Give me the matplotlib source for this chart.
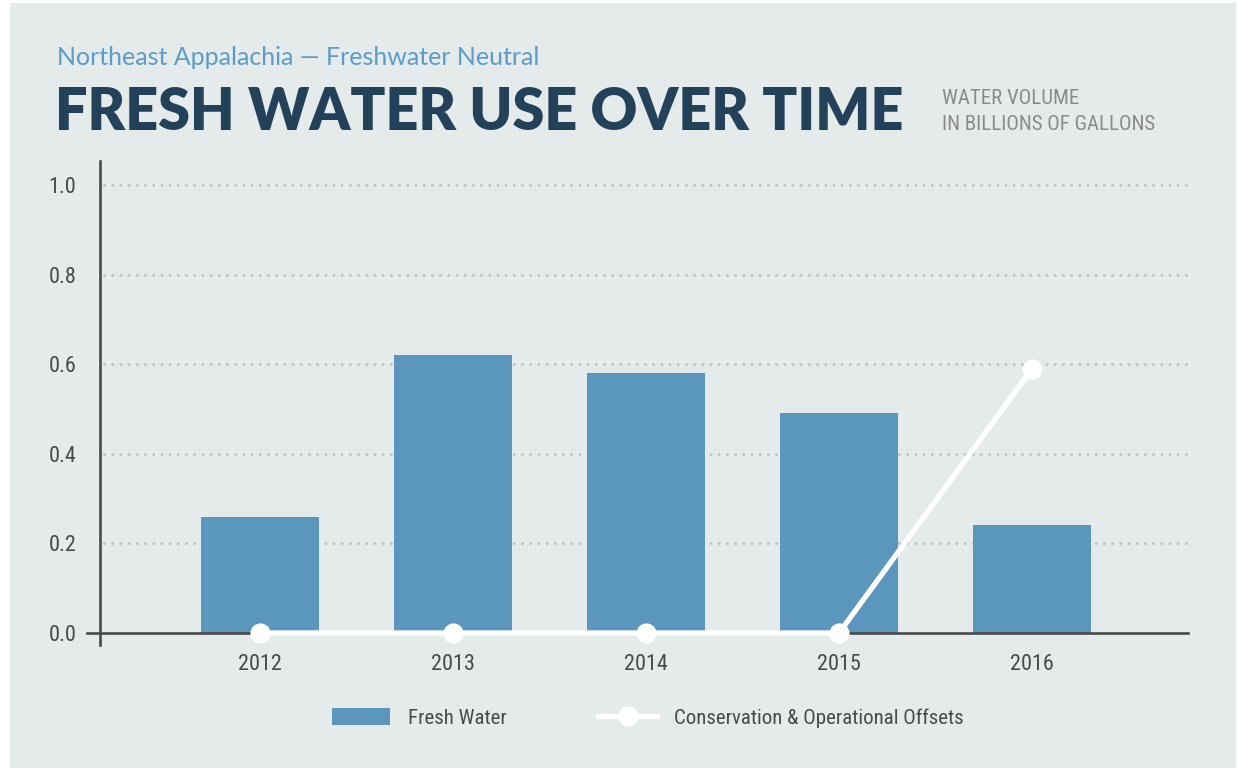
import numpy as np
import matplotlib
matplotlib.use('Agg')
import matplotlib.pyplot as plt
from matplotlib.patches import Rectangle, Patch
from matplotlib.lines import Line2D

years = ['2012', '2013', '2014', '2015', '2016']
fresh_water = [0.26, 0.62, 0.58, 0.49, 0.24]
offsets = [0.0, 0.0, 0.0, 0.0, 0.59]
yticks = [0.0, 0.2, 0.4, 0.6, 0.8, 1.0]

BG = '#e5ebeb'
BAR = '#5b97bd'
DARK = '#23425a'
SUB = '#5b9dc7'
TXT = '#4a4a48'
GRID = '#bcc2c2'
NARROW = ['Roboto Condensed', 'DejaVu Sans']
ST = 'condensed'

W, H = 1238, 771
fig = plt.figure(figsize=(W / 100, H / 100), dpi=100, facecolor='white')
fig.patches.append(Rectangle((10 / W, 3 / H), 1226 / W, 765 / H, transform=fig.transFigure,
                             facecolor=BG, edgecolor='none', zorder=-10))

# axes placed in pixel terms
left, right, top, bottom = 87, 1188, 161, 645
ax = fig.add_axes([left / W, 1 - bottom / H, (right - left) / W, (bottom - top) / H])
ax.set_facecolor('none')

x = np.arange(len(years))
ax.bar(x, fresh_water, width=0.61, color=BAR, zorder=2)
ax.plot(x, offsets, color='white', lw=3.8, marker='o', ms=13.5, zorder=4,
        solid_capstyle='butt', clip_on=False)

ax.set_xlim(-0.896, 4.808)
ax.set_ylim(-0.0268, 1.0536)

# dotted grid, starting right of the spine
for yv in yticks[1:]:
    ax.plot([-0.81, 4.808], [yv, yv], color=GRID, lw=2.1, ls=(0, (0.01, 2.8)),
            dash_capstyle='round', zorder=1)

for s in ['top', 'right']:
    ax.spines[s].set_visible(False)
ax.spines['left'].set_position(('data', -0.83))
ax.spines['bottom'].set_position(('data', 0))
for s in ['left', 'bottom']:
    ax.spines[s].set_color(TXT)
    ax.spines[s].set_linewidth(1.9)
ax.spines['bottom'].set_zorder(3)

ax.set_xticks(x)
ax.set_xticklabels(years)
ax.set_yticks(yticks)
ax.set_yticklabels([f'{v:.1f}' for v in yticks])
ax.tick_params(axis='both', length=0, labelsize=16, labelcolor=TXT)
ax.tick_params(axis='x', pad=15)
ax.tick_params(axis='y', pad=17)
for lab in ax.get_xticklabels() + ax.get_yticklabels():
    lab.set_family(NARROW)
    lab.set_fontstretch(ST)

# headings
fig.text(57 / W, 1 - 65 / H, 'Northeast Appalachia \u2014 Freshwater Neutral', color=SUB,
         fontsize=18, family=['Lato', 'DejaVu Sans'], fontweight='normal', va='baseline')
fig.text(55 / W, 1 - 130 / H, 'FRESH WATER USE OVER TIME', color=DARK, fontsize=41.5,
         family=['Lato', 'DejaVu Sans'], fontweight='heavy', va='baseline')
fig.text(942 / W, 1 - 104 / H, 'WATER VOLUME', color='#8a8a88', fontsize=15,
         family=NARROW, stretch=ST, va='baseline')
fig.text(942 / W, 1 - 130 / H, 'IN BILLIONS OF GALLONS', color='#8a8a88', fontsize=15,
         family=NARROW, stretch=ST, va='baseline')

handles = [Patch(facecolor=BAR, edgecolor='none', label='Fresh Water'),
           Line2D([], [], color='white', lw=3.8, marker='o', ms=13.5,
                  label='Conservation & Operational Offsets')]
leg = fig.legend(handles=handles, loc='center', bbox_to_anchor=(648 / W, 1 - 718 / H),
                 ncol=2, frameon=False, handlelength=2.8, handleheight=0.9,
                 handletextpad=0.85, columnspacing=4.4,
                 prop={'family': NARROW, 'size': 15, 'stretch': ST})
for t in leg.get_texts():
    t.set_color(TXT)

fig.savefig('out.png', dpi=100, facecolor='white')
